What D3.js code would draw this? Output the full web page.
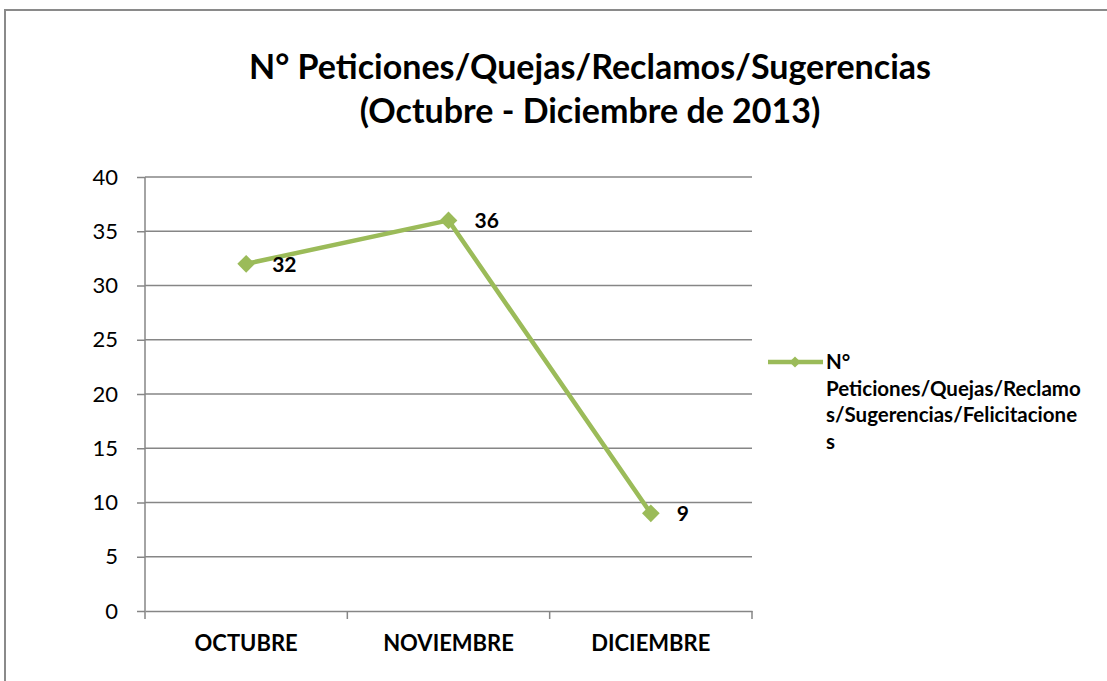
<!DOCTYPE html>
<html>
<head>
<meta charset="utf-8">
<script src="https://cdn.jsdelivr.net/npm/d3@7"></script>
<style>
  body { margin: 0; background: #fff; }
  text { font-family: Lato, "Open Sans", sans-serif; }
</style>
</head>
<body>
<div class="chart"></div>
<script>
const months = ['OCTUBRE', 'NOVIEMBRE', 'DICIEMBRE'];
const counts = [32, 36, 9];
const yTicks = [0, 5, 10, 15, 20, 25, 30, 35, 40];
const titleLines = ['N° Peticiones/Quejas/Reclamos/Sugerencias', '(Octubre - Diciembre de 2013)'];
const legendLines = ['N°', 'Peticiones/Quejas/Reclamo', 's/Sugerencias/Felicitacione', 's'];

const W = 1107, H = 681;
const margin = {top: 177, left: 145, right: W - 752, bottom: H - 611};
const width = W - margin.left - margin.right;
const height = H - margin.top - margin.bottom;
const green = '#9bbb59';
const gridColor = '#868686';

const svg = d3.select('.chart').append('svg')
    .attr('width', W)
    .attr('height', H);

// outer chart frame
svg.append('rect')
    .attr('x', 5).attr('y', 10)
    .attr('width', W + 10).attr('height', H + 10)
    .attr('fill', 'none')
    .attr('stroke', '#8a8a8a')
    .attr('stroke-width', 2);

svg.append('g')
  .selectAll('text')
  .data(titleLines)
  .enter().append('text')
    .attr('x', 590)
    .attr('y', (d, i) => 79 + i * 44)
    .attr('text-anchor', 'middle')
    .attr('font-size', 34)
    .attr('font-weight', 'bold')
    .text(d => d);

const g = svg.append('g')
    .attr('transform', `translate(${margin.left},${margin.top})`);

const xScale = d3.scaleBand().domain(months).range([0, width]);
const yScale = d3.scaleLinear().domain([0, 40]).range([height, 0]);

// gridlines
g.append('g')
  .selectAll('line')
  .data(yTicks.filter(d => d > 0))
  .enter().append('line')
    .attr('x1', 0).attr('x2', width)
    .attr('y1', d => yScale(d)).attr('y2', d => yScale(d))
    .attr('stroke', gridColor)
    .attr('stroke-width', 1.5);

const yAxis = g.append('g')
    .call(d3.axisLeft(yScale).tickValues(yTicks).tickSize(8).tickPadding(19));
yAxis.selectAll('line, path').attr('stroke', gridColor).attr('stroke-width', 1.5);
yAxis.selectAll('text').attr('font-size', 22).attr('fill', '#000')
    .style('font-family', 'Lato, sans-serif');
yAxis.select('.domain').attr('d', `M0,0V${height}`);

const xAxis = g.append('g')
    .attr('transform', `translate(0,${height})`)
    .call(d3.axisBottom(xScale).tickSize(0).tickPadding(24));
xAxis.select('.domain').attr('stroke', gridColor).attr('stroke-width', 1.5);
xAxis.selectAll('text').attr('font-size', 22).attr('font-weight', 'bold').attr('fill', '#000')
    .style('font-family', 'Lato, sans-serif');
xAxis.selectAll('.sep')
  .data(d3.range(months.length + 1))
  .enter().append('line')
    .attr('x1', i => i * xScale.bandwidth())
    .attr('x2', i => i * xScale.bandwidth())
    .attr('y1', 0).attr('y2', 8)
    .attr('stroke', gridColor)
    .attr('stroke-width', 1.5);

const cx = (d, i) => xScale(months[i]) + xScale.bandwidth() / 2;

g.append('path')
    .datum(counts)
    .attr('fill', 'none')
    .attr('stroke', green)
    .attr('stroke-width', 4.5)
    .attr('stroke-linejoin', 'round')
    .attr('d', d3.line().x(cx).y(d => yScale(d)));

const diamond = d3.symbol().type(d3.symbolDiamond2).size(200);

g.selectAll('.pt')
  .data(counts)
  .enter().append('path')
    .attr('class', 'pt')
    .attr('d', diamond)
    .attr('transform', (d, i) => `translate(${cx(d, i)},${yScale(d)})`)
    .attr('fill', green);

g.selectAll('.lbl')
  .data(counts)
  .enter().append('text')
    .attr('class', 'lbl')
    .attr('x', (d, i) => cx(d, i) + 26)
    .attr('y', d => yScale(d) + 8)
    .attr('font-size', 21)
    .attr('font-weight', 'bold')
    .text(d => d);

// legend
const lg = svg.append('g');
lg.append('line')
    .attr('x1', 768).attr('x2', 823)
    .attr('y1', 362).attr('y2', 362)
    .attr('stroke', green).attr('stroke-width', 4.5);
lg.append('path')
    .attr('d', d3.symbol().type(d3.symbolDiamond2).size(80))
    .attr('transform', 'translate(795,362)')
    .attr('fill', green);
lg.selectAll('text')
  .data(legendLines)
  .enter().append('text')
    .attr('x', 826)
    .attr('y', (d, i) => 369 + i * 26.5)
    .attr('font-size', 20.5)
    .attr('font-weight', 'bold')
    .text(d => d);
</script>
</body>
</html>
